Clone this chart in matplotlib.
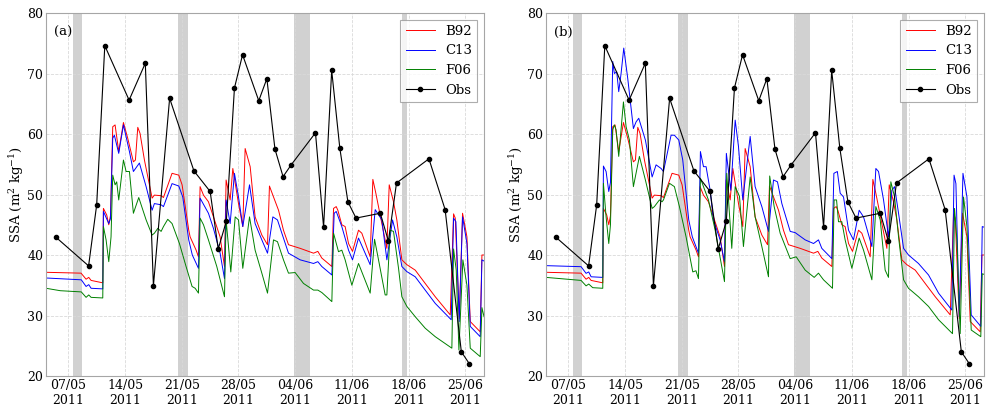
import numpy as np
import matplotlib
matplotlib.use('Agg')
import matplotlib.pyplot as plt
import matplotlib.dates as mdates

plt.rcParams['font.family'] = 'DejaVu Serif'
plt.rcParams['mathtext.fontset'] = 'dejavuserif'

# time axis: day of May 2011 (June 1 = 32), fractional days
obs_day = [5.5, 9.5, 10.5, 11.5, 14.5, 16.5, 17.5, 19.5, 22.5, 24.5, 25.5, 26.5,
           27.5, 28.5, 30.5, 31.5, 32.5, 33.5, 34.5, 37.5, 38.5, 39.5, 40.5, 41.5,
           42.5, 45.5, 46.5, 47.5, 51.5, 53.5, 55.5, 56.5]
obs_ssa = [42.9, 38.2, 48.3, 74.6, 65.6, 71.7, 34.9, 65.9, 53.9, 50.5, 41.0, 45.6,
           67.6, 73.1, 65.5, 69.15, 57.5, 52.95, 54.9, 60.2, 44.6, 70.5, 57.7, 48.8,
           46.1, 46.9, 42.3, 51.9, 55.9, 47.5, 24.0, 22.0]

# model runs, (day, SSA) vertices
b92 = [(4.25, 37.14), (8.57, 37.0), (9.19, 36.0), (9.52, 36.3), (9.81, 35.8), (11.25, 35.4),
       (11.33, 47.7), (11.74, 46.6), (11.99, 45.0), (12.2, 46.5), (12.48, 61.2), (12.77, 61.5),
       (13.22, 57.1), (13.8, 61.9), (14.33, 59.3), (15.03, 55.4), (15.28, 55.7), (15.57, 61.1),
       (15.85, 60.1), (16.39, 55.7), (17.34, 49.4), (17.62, 49.9), (18.45, 49.8), (18.74, 49.5),
       (19.8, 53.5), (20.63, 53.2), (21.04, 51.6), (21.86, 44.1), (22.03, 43.0), (22.77, 40.8),
       (23.06, 39.7), (23.26, 51.3), (23.68, 49.9), (24.29, 48.8), (24.91, 46.3), (25.73, 43.0),
       (26.27, 38.1), (26.47, 52.4), (26.97, 49.1), (27.3, 54.3), (28.0, 48.5), (28.53, 44.7),
       (28.82, 57.6), (29.44, 54.6), (30.05, 46.3), (30.88, 43.3), (31.58, 41.7), (31.82, 51.4),
       (32.32, 49.6), (32.94, 47.4), (33.55, 44.1), (34.17, 41.7), (35.61, 41.1), (37.26, 40.3),
       (37.79, 40.6), (38.28, 39.5), (39.52, 38.1), (39.73, 47.7), (40.06, 48.0), (40.26, 47.4),
       (40.75, 45.0), (41.16, 44.7), (41.58, 41.9), (42.07, 40.6), (42.81, 44.1), (43.22, 43.6),
       (44.25, 39.7), (44.58, 52.5), (44.95, 50.2), (45.69, 45.2), (46.31, 41.1), (46.6, 51.6),
       (47.13, 48.8), (47.54, 45.8), (48.16, 39.2), (48.78, 38.4), (49.81, 37.5), (51.04, 35.3),
       (52.28, 33.1), (54.13, 30.1), (54.54, 46.8), (54.75, 46.1), (55.24, 29.5), (55.65, 46.9),
       (56.19, 43.0), (56.6, 29.0), (57.83, 27.3), (58.04, 40.0), (58.3, 40.0)]

c13_a = [(4.25, 36.2), (8.6, 35.9), (9.19, 34.8), (9.52, 35.1), (9.81, 34.5), (11.25, 34.4),
         (11.33, 47.2), (11.99, 45.2), (12.2, 46.0), (12.48, 59.3), (12.68, 59.8), (13.22, 56.8),
         (13.8, 61.5), (14.54, 57.1), (15.03, 53.8), (15.77, 55.2), (16.6, 51.3), (17.34, 47.4),
         (17.62, 48.5), (18.45, 48.3), (18.74, 48.0), (19.8, 51.8), (20.63, 51.4), (21.12, 49.6),
         (21.86, 42.5), (22.3, 40.0), (23.06, 37.8), (23.26, 49.4), (24.29, 46.9), (24.91, 44.4),
         (25.73, 40.3), (26.27, 36.1), (26.47, 49.1), (26.97, 45.2), (27.5, 53.5), (28.0, 49.6),
         (28.53, 44.7), (29.36, 51.6), (30.05, 45.2), (30.88, 42.5), (31.58, 40.3), (32.24, 46.3),
         (32.81, 45.8), (33.35, 43.6), (34.17, 40.3), (35.61, 39.2), (37.26, 38.6), (37.79, 38.9),
         (38.28, 38.1), (39.52, 36.7), (39.81, 46.9), (40.06, 47.2), (40.75, 44.7), (41.58, 40.8),
         (42.07, 39.2), (42.81, 42.8), (44.25, 38.4), (44.87, 47.5), (45.69, 45.8), (46.31, 39.2),
         (47.01, 45.8), (47.54, 43.0), (48.16, 38.1), (48.78, 37.25), (49.81, 36.4), (51.04, 34.2),
         (52.28, 32.0), (54.25, 29.3), (54.54, 46.1), (54.83, 45.5), (55.24, 29.0), (55.65, 46.3),
         (56.19, 41.9), (56.6, 28.2), (57.83, 26.5), (58.04, 39.2), (58.3, 39.0)]

f06_a = [(4.25, 34.5), (6.0, 34.1), (8.6, 33.9), (9.19, 33.0), (9.52, 33.4), (9.81, 33.0),
         (11.25, 32.9), (11.33, 44.7), (11.66, 42.5), (11.99, 38.9), (12.27, 43.0), (12.48, 53.2),
         (12.77, 51.6), (12.97, 52.1), (13.22, 49.1), (13.8, 55.7), (14.13, 53.8), (14.54, 53.8),
         (15.03, 46.9), (15.69, 49.5), (16.6, 45.8), (17.34, 43.3), (17.62, 43.6), (18.04, 44.4),
         (18.45, 43.9), (18.74, 44.7), (19.27, 45.9), (19.8, 45.2), (20.71, 41.9), (21.53, 38.1),
         (22.27, 34.8), (22.65, 34.5), (23.06, 33.7), (23.26, 46.1), (23.68, 45.0), (24.29, 42.5),
         (25.32, 38.1), (26.27, 33.1), (26.47, 45.8), (27.05, 37.2), (27.59, 46.3), (28.0, 45.8),
         (28.53, 37.8), (29.36, 46.3), (30.05, 40.8), (30.88, 37.0), (31.58, 33.7), (32.32, 42.5),
         (32.81, 42.2), (33.55, 39.2), (34.17, 37.0), (34.99, 37.1), (36.02, 35.3), (37.26, 34.2),
         (37.79, 34.2), (38.28, 33.8), (39.52, 32.3), (39.73, 43.6), (40.34, 40.55), (40.75, 40.8),
         (41.16, 39.2), (41.99, 35.0), (42.81, 38.6), (44.25, 33.7), (44.79, 42.6), (45.28, 39.2),
         (46.1, 33.4), (46.31, 33.4), (46.72, 44.1), (47.13, 43.9), (47.75, 37.8), (48.16, 33.1),
         (48.78, 31.5), (49.81, 29.8), (51.04, 27.9), (52.28, 26.5), (54.33, 24.6), (54.54, 41.0),
         (54.87, 37.5), (55.2, 24.3), (55.69, 39.2), (56.19, 35.0), (56.6, 24.6), (57.83, 23.2),
         (58.04, 31.3), (58.3, 29.8)]

c13_b = [(4.25, 38.24), (8.57, 38.07), (9.19, 36.97), (9.52, 37.2), (9.81, 36.4), (11.25, 36.3),
         (11.33, 54.7), (11.66, 53.8), (11.99, 50.5), (12.2, 52.0), (12.48, 72.0), (12.68, 70.0),
         (12.97, 70.3), (13.22, 67.0), (13.51, 70.0), (13.84, 74.2), (14.33, 69.2), (15.03, 60.9),
         (15.36, 62.0), (15.69, 62.6), (16.51, 59.0), (17.34, 52.9), (17.83, 54.9), (18.45, 54.3),
         (18.74, 53.8), (19.68, 59.8), (20.09, 59.8), (20.63, 59.0), (21.12, 55.7), (21.86, 45.8),
         (22.3, 43.0), (23.06, 40.3), (23.3, 57.1), (23.68, 54.6), (24.0, 54.6), (24.5, 50.7),
         (24.91, 45.8), (25.73, 42.5), (26.27, 38.9), (26.5, 56.8), (27.05, 50.7), (27.59, 62.3),
         (28.0, 57.9), (28.53, 49.1), (29.44, 59.6), (30.05, 51.3), (30.88, 48.0), (31.7, 43.9),
         (32.32, 52.4), (32.81, 52.1), (33.35, 48.5), (34.38, 43.9), (34.99, 43.7), (36.23, 42.5),
         (37.26, 41.9), (37.87, 42.5), (38.28, 41.1), (39.52, 39.4), (39.77, 53.5), (40.2, 53.8),
         (40.55, 50.2), (40.96, 49.6), (41.58, 44.1), (42.19, 42.5), (42.89, 47.4), (43.43, 46.3),
         (44.46, 41.4), (44.95, 54.3), (45.28, 53.8), (45.9, 49.1), (46.51, 43.0), (46.93, 50.7),
         (47.26, 51.3), (47.75, 46.9), (48.37, 41.1), (48.98, 40.0), (50.21, 38.6), (51.45, 36.7),
         (52.69, 33.7), (54.33, 30.9), (54.6, 53.2), (54.83, 51.8), (55.24, 29.8), (55.7, 53.5),
         (56.19, 49.6), (56.72, 30.1), (57.9, 28.2), (58.08, 44.7), (58.3, 44.6)]

f06_b = [(4.25, 36.3), (8.57, 35.8), (9.19, 34.9), (9.52, 35.2), (10.01, 34.6), (11.25, 34.5),
         (11.33, 51.85), (11.66, 46.3), (11.99, 41.9), (12.2, 45.0), (12.48, 60.7), (12.68, 61.5),
         (12.89, 60.7), (13.22, 56.3), (13.8, 65.3), (14.13, 61.2), (14.54, 59.0), (15.03, 51.3),
         (15.77, 56.3), (16.51, 52.4), (17.34, 47.7), (17.62, 48.0), (18.24, 49.1), (18.57, 48.8),
         (18.74, 49.1), (19.48, 51.85), (20.09, 51.3), (20.71, 48.0), (21.53, 43.0), (22.36, 37.2),
         (22.75, 37.4), (23.06, 36.1), (23.3, 52.7), (23.68, 51.3), (24.29, 49.1), (25.12, 44.1),
         (26.27, 35.6), (26.55, 53.5), (27.17, 41.1), (27.59, 51.3), (28.12, 49.7), (28.61, 41.4),
         (29.44, 52.9), (30.05, 46.3), (30.88, 41.4), (31.7, 36.4), (31.85, 53.06), (32.4, 48.0),
         (33.14, 43.6), (34.38, 39.4), (35.12, 39.7), (36.23, 37.5), (37.34, 36.3), (37.87, 37.0),
         (38.49, 35.9), (39.6, 34.5), (39.8, 49.1), (40.1, 49.1), (40.34, 45.5), (40.75, 45.5),
         (41.16, 42.5), (41.99, 37.8), (42.89, 42.8), (43.43, 40.8), (44.46, 35.9), (44.95, 48.0),
         (45.49, 45.8), (46.1, 37.5), (46.51, 36.3), (46.8, 52.1), (47.26, 49.6), (47.75, 43.0),
         (48.37, 35.9), (48.98, 34.5), (50.21, 33.1), (51.45, 31.5), (52.69, 29.3), (54.41, 27.0),
         (54.66, 47.7), (54.95, 42.5), (55.36, 27.0), (55.77, 49.6), (56.19, 44.7), (56.72, 27.6),
         (57.9, 26.5), (58.08, 36.9), (58.3, 36.8)]

# shaded periods (day of May)
shade = [(7.58, 8.66), (20.55, 21.8), (34.9, 36.8), (48.2, 48.85)]

tick_day = [7, 14, 21, 28, 35, 42, 49, 56]
xlim_day = (4.25, 58.3)


def to_date(d):
    d = np.asarray(d, dtype=float)
    return np.datetime64('2011-04-30T00:00') + (d * 1440).round().astype('timedelta64[m]')


def draw(ax, c13, f06, tag):
    for a, b in shade:
        ax.axvspan(to_date(a), to_date(b), color='0.82', lw=0, zorder=0)
    for run, col, name in [(b92, 'r', 'B92'), (c13, 'b', 'C13'), (f06, 'g', 'F06')]:
        d, v = np.array(run).T
        ax.plot(to_date(d), v, color=col, lw=0.7, label=name, zorder=2)
    ax.plot(to_date(obs_day), obs_ssa, 'k.-', lw=0.8, ms=6, label='Obs', zorder=3)

    ax.set_xlim(to_date(xlim_day[0]), to_date(xlim_day[1]))
    ax.set_ylim(20, 80)
    ax.set_yticks(np.arange(20, 81, 10))
    ax.set_xticks(to_date(tick_day))
    ax.xaxis.set_major_formatter(mdates.DateFormatter('%d/%m\n%Y'))
    ax.grid(True, ls='--', color='0.85', lw=0.6)
    ax.tick_params(length=0, labelsize=9, pad=2)
    for s in ax.spines.values():
        s.set_color('0.65')
    ax.set_ylabel(r'SSA (m$^2$ kg$^{-1}$)', fontsize=9.5)
    ax.yaxis.set_label_coords(-0.046, 0.5)
    ax.text(0.018, 0.965, tag, transform=ax.transAxes, fontsize=9.5, va='top')
    leg = ax.legend(loc='upper right', fontsize=9.5, fancybox=False, handlelength=2.2)
    leg.get_frame().set_edgecolor('0.6')
    leg.get_frame().set_linewidth(0.8)


fig = plt.figure(figsize=(9.86, 4.05), dpi=100)
ax1 = fig.add_axes([0.0467, 0.0716, 0.4442, 0.8963])
ax2 = fig.add_axes([0.5538, 0.0716, 0.4442, 0.8963])
draw(ax1, c13_a, f06_a, '(a)')
draw(ax2, c13_b, f06_b, '(b)')

fig.savefig('out.png', dpi=100)
